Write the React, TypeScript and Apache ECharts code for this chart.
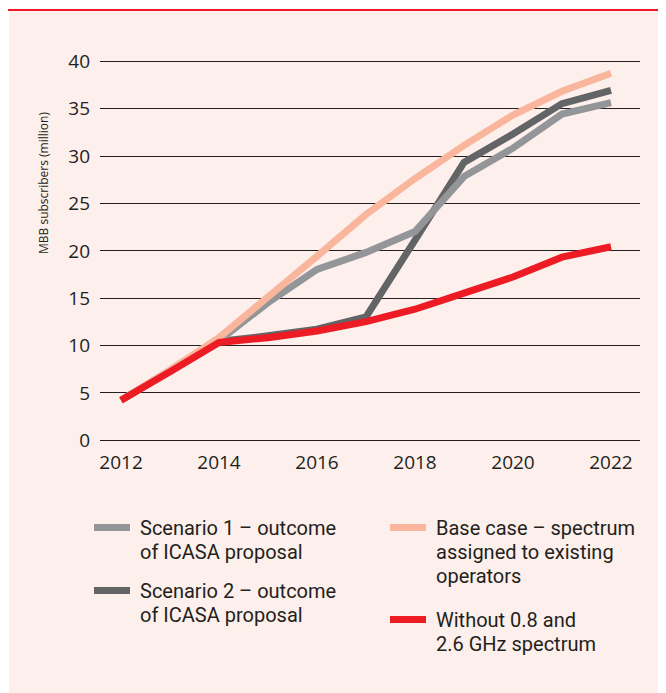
import React, { useEffect, useRef } from "react";
import * as echarts from "echarts";

const years = [2012, 2013, 2014, 2015, 2016, 2017, 2018, 2019, 2020, 2021, 2022];
const xTickLabels = [2012, 2014, 2016, 2018, 2020, 2022];
const scenario1 = [4.2, 7.3, 10.5, 14.5, 18.0, 19.8, 22.0, 27.8, 30.8, 34.4, 35.6];
const scenario2 = [4.2, 7.3, 10.4, 11.0, 11.7, 13.0, 21.1, 29.3, 32.3, 35.5, 36.9];
const baseCase = [4.2, 7.4, 10.8, 15.1, 19.4, 23.8, 27.6, 31.1, 34.3, 36.8, 38.7];
const without = [4.2, 7.2, 10.3, 10.8, 11.5, 12.5, 13.8, 15.5, 17.2, 19.3, 20.4];

const seriesNames = [
  "Scenario 1 – outcome\nof ICASA proposal",
  "Scenario 2 – outcome\nof ICASA proposal",
  "Base case – spectrum\nassigned to existing\noperators",
  "Without 0.8 and\n2.6 GHz spectrum",
];
const colors = ["#939598", "#636466", "#F9B69C", "#ED1C24"];

const FONT = "'Open Sans', sans-serif";
const LEGEND_FONT = "Roboto, sans-serif";
const TEXT = "#231F20";

export default function App() {
  const ref = useRef<HTMLDivElement>(null);
  useEffect(() => {
    if (!ref.current) return;
    const chart = echarts.init(ref.current, undefined, { renderer: "svg" });
    const pair = (arr: number[]) => years.map((y, i) => [y, arr[i]]);
    const mk = (idx: number, arr: number[]) => ({
      name: seriesNames[idx],
      type: "line",
      data: pair(arr),
      symbol: "none",
      lineStyle: { width: 7, color: colors[idx], cap: "butt", join: "miter" },
      itemStyle: { color: colors[idx] },
    });
    const legendPos = [
      { x: 86, y: 519.5 },
      { x: 86, y: 582.5 },
      { x: 382, y: 519.5 },
      { x: 382, y: 611.5 },
    ];
    const legendGraphics = seriesNames.map((n, i) => ({
      type: "group",
      children: [
        {
          type: "rect",
          shape: { x: legendPos[i].x, y: legendPos[i].y - 3.5, width: 36, height: 7 },
          style: { fill: colors[i] },
        },
        {
          type: "text",
          x: legendPos[i].x + 46,
          y: legendPos[i].y - 12,
          style: {
            text: n,
            font: `20px ${LEGEND_FONT}`,
            fill: TEXT,
            lineHeight: 24,
            verticalAlign: "top",
          },
        },
      ],
    }));
    chart.setOption({
      animation: false,
      backgroundColor: "#ffffff",
      grid: { left: 92, right: 26, top: 53, bottom: 253, containLabel: false },
      xAxis: {
        type: "value",
        min: 2011.571,
        max: 2022.592,
        axisLine: { show: false },
        axisTick: { show: false },
        splitLine: { show: false },
        axisLabel: {
          customValues: xTickLabels,
          formatter: (v: number) => String(v),
          fontSize: 19,
          fontFamily: FONT,
          color: TEXT,
          margin: 12,
        },
      },
      yAxis: {
        type: "value",
        min: 0,
        max: 40,
        interval: 5,
        axisLine: { show: false },
        axisTick: { show: false },
        splitLine: { show: true, lineStyle: { color: TEXT, width: 1.2 } },
        axisLabel: { fontSize: 19, fontFamily: FONT, color: TEXT, margin: 10 },
      },
      graphic: [
        {
          type: "rect",
          z: -10,
          silent: true,
          shape: { x: 1, y: 3, width: 660, height: 690 },
          style: { fill: "#FDEFEB" },
        },
        {
          type: "rect",
          z: -9,
          silent: true,
          shape: { x: 0, y: 1, width: 660, height: 2 },
          style: { fill: "#ED1C24" },
        },
        {
          type: "text",
          x: 35,
          y: 175,
          rotation: Math.PI / 2,
          style: {
            text: "MBB subscribers (million)",
            font: `12px ${FONT}`,
            fill: TEXT,
            align: "center",
            verticalAlign: "middle",
          },
        },
        ...legendGraphics,
      ],
      series: [mk(1, scenario2), mk(0, scenario1), mk(2, baseCase), mk(3, without)],
    });
    return () => chart.dispose();
  }, []);
  return <div ref={ref} style={{ width: 658, height: 685 }} />;
}
